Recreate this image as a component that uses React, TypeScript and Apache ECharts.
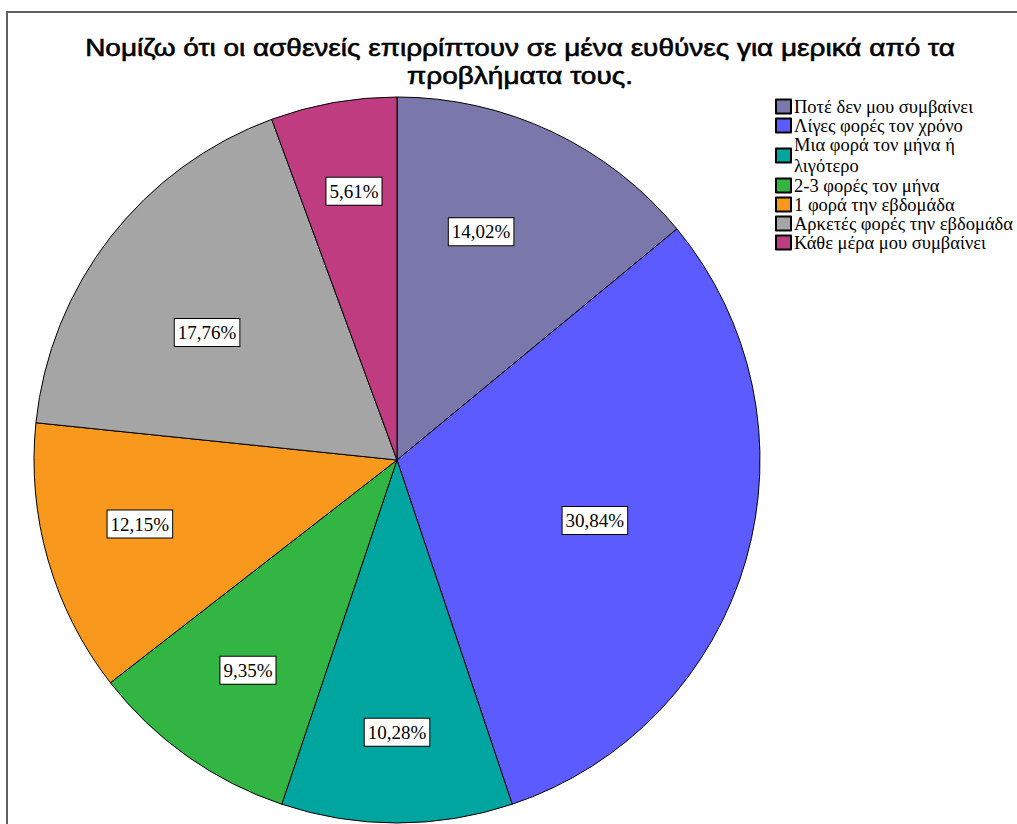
import React, { useEffect, useRef } from "react";
import * as echarts from "echarts";

const titleLines = [
  "Νομίζω ότι οι ασθενείς επιρρίπτουν σε μένα ευθύνες για μερικά από τα",
  "προβλήματα τους.",
];
const categories = [
  "Ποτέ δεν μου συμβαίνει",
  "Λίγες φορές τον χρόνο",
  "Μια φορά τον μήνα ή λιγότερο",
  "2-3 φορές τον μήνα",
  "1 φορά την εβδομάδα",
  "Αρκετές φορές την εβδομάδα",
  "Κάθε μέρα μου συμβαίνει",
];
const counts = [15, 33, 11, 10, 13, 19, 6];
const colors = ["#7a78aa", "#5b5bff", "#00a59f", "#33b543", "#f8981d", "#a5a5a5", "#c03c80"];
// label radial placement (fraction of radius) and angle shift (deg), style only
const labelRadius = [0.67, 0.57, 0.75, 0.71, 0.73, 0.63, 0.75];
const labelAngleShift = [-5, 1, 0, 0, 2, -4, 1];

const CX = 397;
const CY = 460;
const R = 363;

export default function App() {
  const ref = useRef<HTMLDivElement>(null);
  useEffect(() => {
    if (!ref.current) return;
    const chart = echarts.init(ref.current, undefined, { renderer: "svg" });
    const total = counts.reduce((a, b) => a + b, 0);
    chart.setOption({
      animation: false,
      backgroundColor: "#ffffff",
      legend: {
        orient: "vertical",
        left: 775,
        top: 97,
        itemWidth: 15,
        itemHeight: 14,
        itemGap: 0,
        padding: 0,
        icon: "rect",
        data: categories.map((name) =>
          name === "Μια φορά τον μήνα ή λιγότερο"
            ? { name, textStyle: { lineHeight: 20.5 } }
            : { name }
        ),
        formatter: (name: string) =>
          name === "Μια φορά τον μήνα ή λιγότερο" ? "Μια φορά τον μήνα ή\nλιγότερο" : name,
        textStyle: {
          fontFamily: "Liberation Serif",
          fontSize: 18.5,
          lineHeight: 19,
          color: "#000",
          padding: [0, 0, 0, -2],
        },
      },
      graphic: [
        {
          type: "polyline",
          shape: { points: [[7, 824], [7, 12], [1017, 12]] },
          style: { stroke: "#606060", lineWidth: 2, fill: "none" },
          silent: true,
        },
        {
          type: "text",
          x: 520,
          y: 61.5,
          scaleX: 1.165,
          style: {
            text: titleLines.join("\n"),
            align: "center",
            verticalAlign: "middle",
            font: "24px 'Liberation Sans'",
            lineHeight: 28,
            fill: "#000",
            stroke: "#000",
            lineWidth: 0.6,
          },
        },
      ],
      series: [
        {
          type: "pie",
          center: [CX, CY],
          radius: [0, R],
          startAngle: 90,
          clockwise: true,
          avoidLabelOverlap: false,
          itemStyle: { borderColor: "#000", borderWidth: 1 },
          emphasis: { disabled: true },
          label: {
            show: true,
            position: "inside",
            formatter: (p: any) => ((p.value / total) * 100).toFixed(2).replace(".", ",") + "%",
            fontFamily: "Liberation Serif",
            fontSize: 19,
            color: "#000",
            backgroundColor: "#fff",
            borderColor: "#000",
            borderWidth: 1,
            padding: [4, 3, 4, 3],
          },
          labelLine: { show: false },
          labelLayout: (params: any) => {
            const i = params.dataIndex;
            const lr = params.labelRect;
            const lx = lr.x + lr.width / 2 - CX;
            const ly = lr.y + lr.height / 2 - CY;
            const ang = Math.atan2(ly, lx) + (labelAngleShift[i] * Math.PI) / 180;
            const k = labelRadius[i] * R;
            return { x: CX + Math.cos(ang) * k, y: CY + Math.sin(ang) * k };
          },
          data: categories.map((name, i) => ({
            name,
            value: counts[i],
            itemStyle: { color: colors[i] },
          })),
        },
      ],
    });
    return () => chart.dispose();
  }, []);
  return (
    <div
      ref={ref}
      style={{ position: "absolute", left: 0, top: 0, width: 1017, height: 824 }}
    />
  );
}
